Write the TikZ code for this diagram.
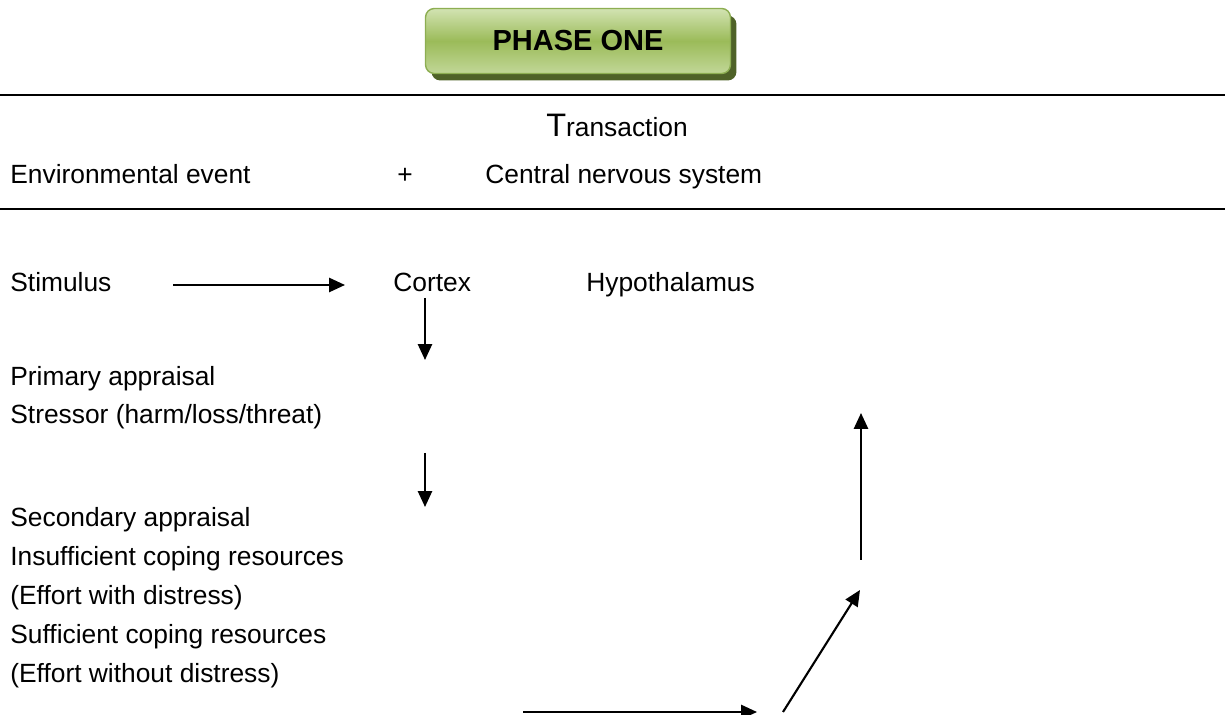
\documentclass[tikz,border=0pt]{standalone}
\usepackage{fontspec}
\setmainfont{Liberation Sans}
\usepackage{xcolor}
\usepackage{tikz}
\usetikzlibrary{arrows.meta,shadows}
\definecolor{phtop}{HTML}{D2E3B2}
\definecolor{phmid}{HTML}{9BBB59}
\definecolor{phedge}{HTML}{8DAE52}
\definecolor{phshade}{HTML}{4F6228}

\begin{document}
\begin{tikzpicture}[x=0.02cm,y=-0.02cm,
 txt/.style={inner sep=0pt, anchor=mid west, font=\fontsize{15}{18}\selectfont},
 flow/.style={line width=1.2pt, -{Triangle[length=9pt,width=8pt]}},
 rule/.style={line width=1.2pt},
 phasebox/.style={draw=phedge, line width=0.8pt, rounded corners=5pt, top color=phtop, bottom color=phtop!70!phmid, middle color=phmid,
  minimum width=6.1cm, minimum height=1.3cm, font=\fontsize{16.5}{18}\selectfont\bfseries,
  drop shadow={shadow xshift=0.12cm, shadow yshift=-0.14cm, fill=phshade, opacity=1}}]
\useasboundingbox (0,0) rectangle (1225,715);
\node[phasebox] (phase) at (578,41) {PHASE ONE};
\coordinate (r1a) at (0,95); \coordinate (r1b) at (1225,95);
\coordinate (r2a) at (0,209); \coordinate (r2b) at (1225,209);
\draw[rule] (r1a) -- (r1b);
\draw[rule] (r2a) -- (r2b);
\node[txt, anchor=mid] (trans) at (617,132) {{\fontsize{18.5}{18}\selectfont T}ransaction};
\node[txt] (env) at (10,179) {Environmental event};
\node[txt, anchor=mid] (plus) at (405,179) {+};
\node[txt] (cns) at (485,179) {Central nervous system};
\node[txt] (stim) at (10,287) {Stimulus};
\node[txt] (cortex) at (393,287) {Cortex};
\node[txt] (hypo) at (586,287) {Hypothalamus};
\node[txt] (prim) at (10,381) {Primary appraisal};
\node[txt] (stress) at (10,419) {Stressor (harm/loss/threat)};
\node[txt] (sec) at (10,522) {Secondary appraisal};
\node[txt] (insuf) at (10,561) {Insufficient coping resources};
\node[txt] (effw) at (10,600) {(Effort with distress)};
\node[txt] (suff) at (10,639) {Sufficient coping resources};
\node[txt] (effwo) at (10,678) {(Effort without distress)};
\coordinate (s1) at (173,285); \coordinate (s2) at (345,285);
\coordinate (d1) at (425,298); \coordinate (d2) at (425,360);
\coordinate (d3) at (425,453); \coordinate (d4) at (425,507);
\coordinate (b1) at (523,712); \coordinate (b2) at (757,712);
\coordinate (g1) at (783,712); \coordinate (g2) at (860,590);
\coordinate (u1) at (861,560); \coordinate (u2) at (861,413);
\draw[flow] (s1) -- (s2);
\draw[flow] (d1) -- (d2);
\draw[flow] (d3) -- (d4);
\draw[flow] (b1) -- (b2);
\draw[flow] (g1) -- (g2);
\draw[flow] (u1) -- (u2);
\end{tikzpicture}
\end{document}
